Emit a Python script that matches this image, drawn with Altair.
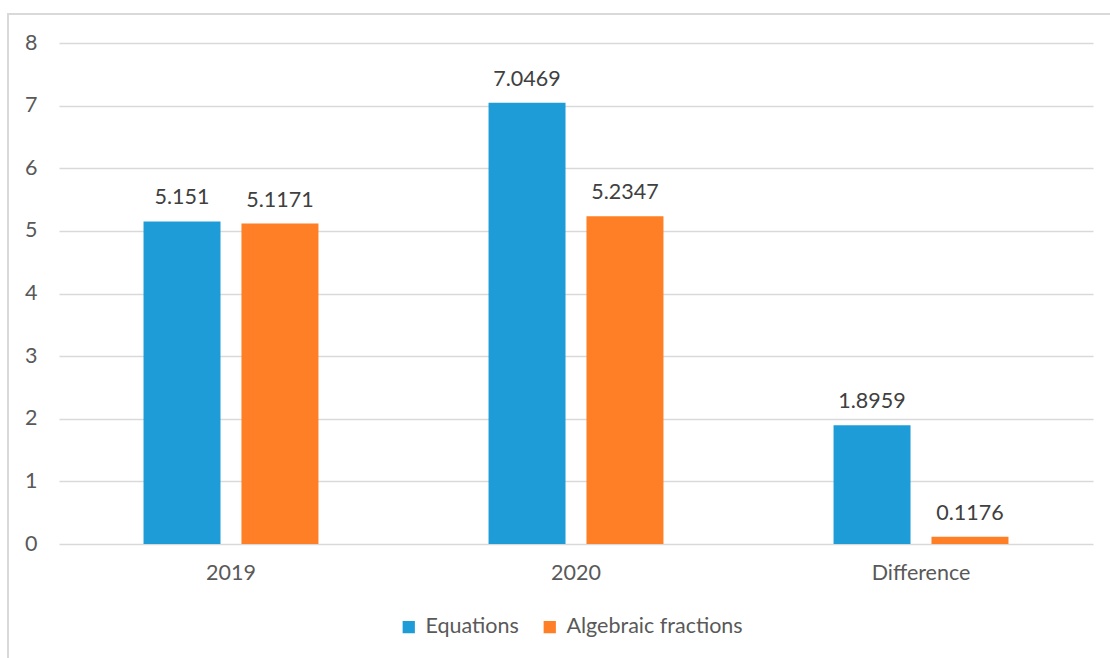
import altair as alt
import pandas as pd

categories = ["2019", "2020", "Difference"]
series = ["Equations", "Algebraic fractions"]
equations = [5.151, 7.0469, 1.8959]
fractions = [5.1171, 5.2347, 0.1176]
equations_labels = ["5.151", "7.0469", "1.8959"]
fractions_labels = ["5.1171", "5.2347", "0.1176"]
y_ticks = [0, 1, 2, 3, 4, 5, 6, 7, 8]

rows = []
for c, v, l in zip(categories, equations, equations_labels):
    rows.append({"cat": c, "series": series[0], "value": v, "label": l})
for c, v, l in zip(categories, fractions, fractions_labels):
    rows.append({"cat": c, "series": series[1], "value": v, "label": l})
df = pd.DataFrame(rows)

FONT = "Lato"
FS = 21.5
colors = ["#1E9CD8", "#FE7F26"]

x_enc = alt.X("cat:N", sort=categories,
              scale=alt.Scale(paddingInner=0.493, paddingOuter=0.245),
              axis=alt.Axis(title=None, labelAngle=0, domain=False, ticks=False,
                            labelPadding=18, labelFontSize=FS, labelColor="#595959",
                            labelFont=FONT, grid=False))
xoff = alt.XOffset("series:N", sort=series,
                   scale=alt.Scale(paddingInner=0.214, paddingOuter=0))
y_enc = alt.Y("value:Q",
              scale=alt.Scale(domain=[0, 8], nice=False),
              axis=alt.Axis(title=None, values=y_ticks, format="d", domain=False, ticks=False,
                            labelPadding=22, labelFontSize=FS, labelColor="#595959",
                            labelFont=FONT, grid=True, gridColor="#d9d9d9",
                            gridWidth=1.4))

bars = alt.Chart(df).mark_bar().encode(
    x=x_enc,
    xOffset=xoff,
    y=y_enc,
    color=alt.Color("series:N", sort=series,
                    scale=alt.Scale(domain=series, range=colors),
                    legend=alt.Legend(title=None, orient="none", direction="horizontal",
                                      legendX=339, legendY=573, padding=0,
                                      symbolType="square", symbolSize=150,
                                      symbolStrokeWidth=0, labelFontSize=FS,
                                      labelFont=FONT, labelColor="#595959",
                                      labelLimit=400,
                                      labelOffset=6, columnPadding=20)),
)

labels = alt.Chart(df).mark_text(
    baseline="alphabetic", dy=-17, fontSize=FS, font=FONT, color="#404040"
).encode(
    x=alt.X("cat:N", sort=categories),
    xOffset=alt.XOffset("series:N", sort=series),
    y="value:Q",
    text="label:N",
)

frame = alt.Chart(df).mark_rect(
    fillOpacity=0, stroke="#d9d9d9", strokeWidth=2
).encode(
    x=alt.value(-51), x2=alt.value(1100),
    y=alt.value(-29), y2=alt.value(700),
)

chart = alt.layer(frame, bars, labels).properties(
    width=1034, height=501,
    autosize=alt.AutoSizeParams(type="none"),
    padding={"left": 59, "top": 43, "right": 17, "bottom": 114},
    background="white",
).configure_view(stroke=None)

chart.save("out.html", embed_options={"renderer": "svg", "actions": False})
